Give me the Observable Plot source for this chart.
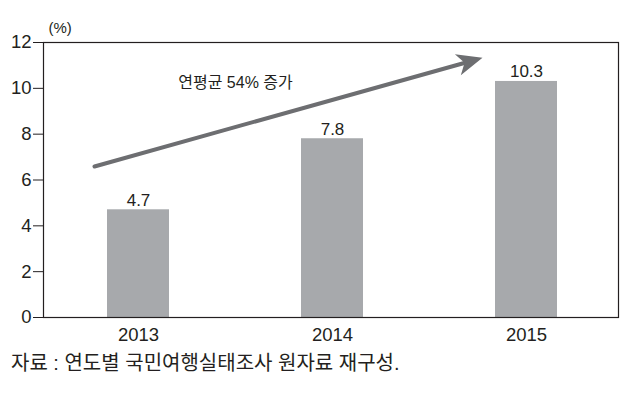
<!DOCTYPE html>
<html>
<head>
<meta charset="utf-8">
<script src="https://cdn.jsdelivr.net/npm/d3@7"></script>
<script src="https://cdn.jsdelivr.net/npm/@observablehq/plot@0.6"></script>
<style>
  html, body { margin: 0; padding: 0; background: #fff; }
  #chart { width: 637px; height: 345px; }
  #caption {
    font-family: "Liberation Sans", "Noto Sans CJK KR", sans-serif;
    font-size: 20px; color: #231f20; line-height: 24px;
    margin-top: 6px; padding-left: 11px; white-space: nowrap;
  }
</style>
</head>
<body>
<div id="chart"></div>
<div id="caption"></div>
<script>
// ---- data ----
const years = ["2013", "2014", "2015"];
const values = [4.7, 7.8, 10.3];
const valueLabels = ["4.7", "7.8", "10.3"];
const yTicks = [0, 2, 4, 6, 8, 10, 12];
const yUnit = "(%)";
const trendText = "연평균 54% 증가";
const trendTextYear = "2013";
const trendTextValue = 10.26;
const trendStartYear = "2013";
const trendStartValue = 6.59;
const trendEndYear = "2015";
const trendEndValue = 11.33;
const captionText = "자료 : 연도별 국민여행실태조사 원자료 재구성.";

const data = years.map((year, i) => ({year, value: values[i], label: valueLabels[i]}));
const trend = [{x1: trendStartYear, y1: trendStartValue, x2: trendEndYear, y2: trendEndValue}];
const trendLabel = [{x: trendTextYear, y: trendTextValue, text: trendText}];

const arrowGray = "#6d6e71";
const barGray = "#a7a9ac";
const ink = "#231f20";

// notched arrowhead, tip at origin pointing up
const arrowHead = {
  draw(ctx) {
    ctx.moveTo(0, 0);
    ctx.lineTo(-11, 25.6);
    ctx.lineTo(0, 18.6);
    ctx.lineTo(11, 25.6);
    ctx.closePath();
  }
};

const chart = Plot.plot({
  width: 637,
  height: 345,
  marginLeft: 43,
  marginRight: 19,
  marginTop: 42,
  marginBottom: 28,
  style: {
    fontFamily: '"Liberation Sans", "Noto Sans CJK KR", sans-serif',
    color: ink,
    background: "#fff",
    overflow: "visible"
  },
  x: {domain: years, paddingInner: 0.68, paddingOuter: 0.32, align: 0.51, label: null},
  y: {domain: [0, 12], label: null},
  marks: [
    Plot.barY(data, {x: "year", y: "value", fill: barGray}),
    Plot.frame({stroke: ink, strokeWidth: 1.2}),
    Plot.axisY({ticks: yTicks, tickSize: 10, tickPadding: 2, label: null, fontSize: 18.5, stroke: ink}),
    Plot.axisX({tickSize: 0, tickPadding: 10, label: null, fontSize: 18.5}),
    Plot.text([yUnit], {frameAnchor: "top-left", dx: 5, dy: -14, lineAnchor: "middle", textAnchor: "start", fontSize: 15, fill: ink}),
    Plot.text(data, {x: "year", y: "value", text: "label", lineAnchor: "bottom", dy: -4, fontSize: 17, fill: ink}),
    Plot.arrow(trend, {x1: "x1", y1: "y1", x2: "x2", y2: "y2", dx: -44, stroke: arrowGray, strokeWidth: 4, headLength: 0, insetEnd: 19}),
    Plot.dot(trend, {x: "x2", y: "y2", dx: -44, symbol: arrowHead, rotate: 74.4, fill: arrowGray, stroke: "none", r: 10}),
    Plot.text(trendLabel, {x: "x", y: "y", text: "text", dx: 97, fontSize: 16, lineAnchor: "middle", fill: ink})
  ]
});
document.getElementById("chart").appendChild(chart);
document.getElementById("caption").textContent = captionText;
</script>
</body>
</html>
